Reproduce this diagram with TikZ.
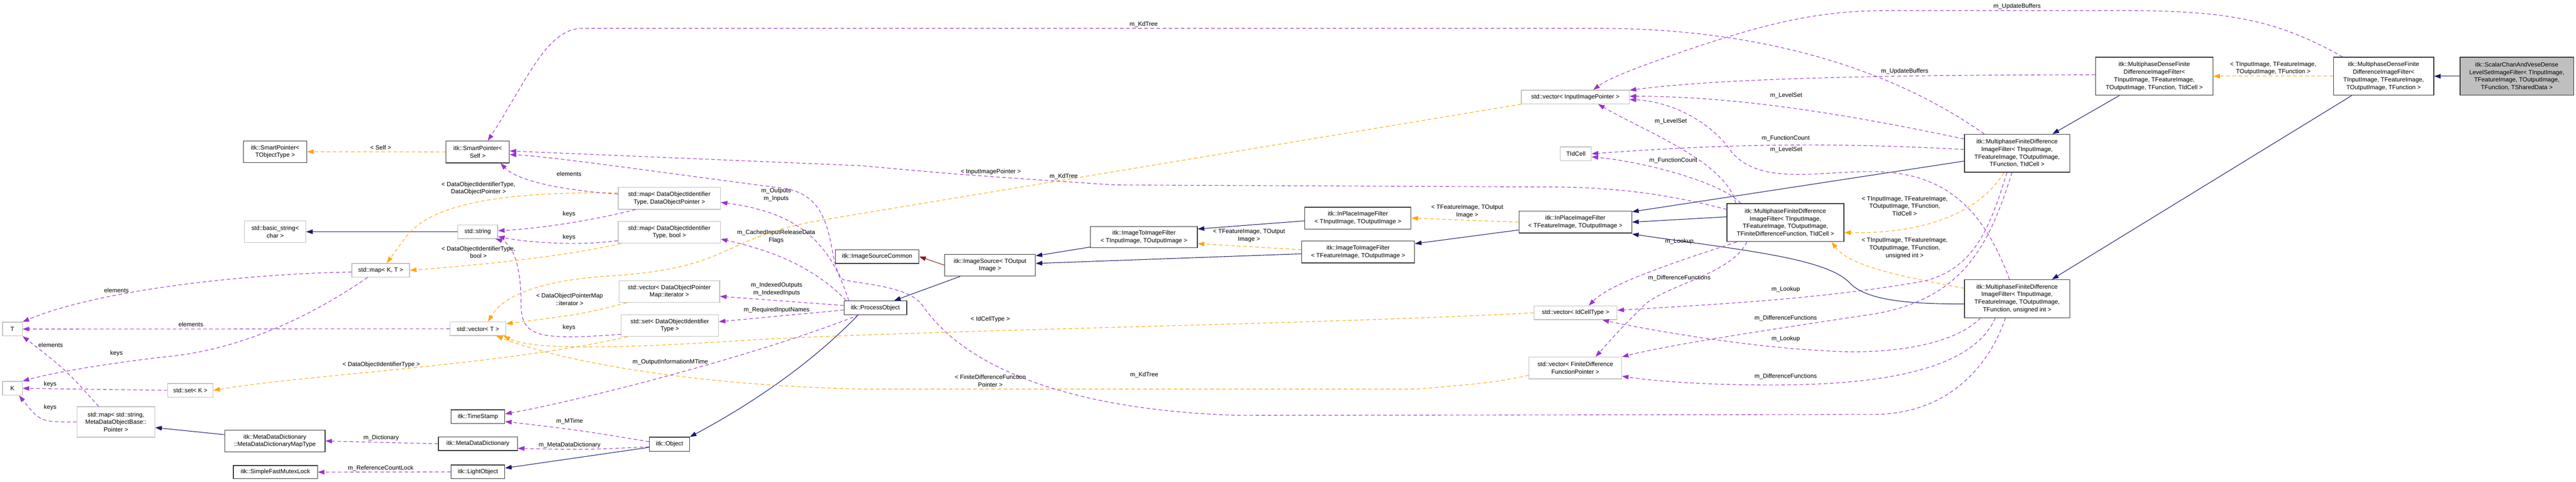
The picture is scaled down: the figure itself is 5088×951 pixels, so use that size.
\documentclass[tikz,border=0pt]{standalone}
\usepackage{fontspec}
\setmainfont{Liberation Sans}
\usetikzlibrary{arrows.meta}
\definecolor{cpur}{HTML}{9A32CD}
\definecolor{corg}{HTML}{FFA500}
\definecolor{cnav}{HTML}{191970}
\definecolor{cred}{HTML}{8B1A1A}
\definecolor{cgry}{HTML}{BFBFBF}
\newcommand\fsz{\fontsize{12}{15}\selectfont}
\tikzset{
 every node/.style={font=\fsz},
 box/.style={draw=black!80, line width=1.3pt, fill=white, inner sep=0pt, align=center},
 gbox/.style={draw=cgry, line width=1.3pt, fill=white, inner sep=0pt, align=center},
 tip/.style={-{Triangle[length=13pt,width=9pt]}},
 inh/.style={tip, draw=cnav, line width=1.1pt},
 inr/.style={tip, draw=cred, line width=1.1pt},
 tmpl/.style={tip, draw=corg, line width=1.1pt, dash pattern=on 7pt off 5pt},
 mem/.style={tip, draw=cpur, line width=1.1pt, dash pattern=on 7pt off 5pt},
 lbl/.style={align=center, inner sep=0pt}
}
\begin{document}
\begin{tikzpicture}[x=1pt,y=-1pt]
\useasboundingbox (0,0) rectangle (5088,951);
% nodes
\node[box, minimum width=125, minimum height=43] (sptobj) at (543.5,299.5) {itk::SmartPointer<\\ TObjectType >};
\node[gbox, minimum width=121, minimum height=43] (bstr) at (543.5,457.5) {std::basic\_string<\\ char >};
\node[gbox, minimum width=114, minimum height=27] (mapkt) at (752,533.5) {std::map< K, T >};
\node[gbox, minimum width=39, minimum height=27] (T) at (24.5,649.5) {T};
\node[gbox, minimum width=39, minimum height=27] (K) at (24.5,766.5) {K};
\node[gbox, minimum width=90, minimum height=27] (setk) at (376,770.5) {std::set< K >};
\node[gbox, minimum width=154, minimum height=60] (mapmd) at (229,833) {std::map< std::string,\\ MetaDataObjectBase::\\ Pointer >};
\node[box, minimum width=198, minimum height=43] (mdmt) at (543,870.5) {itk::MetaDataDictionary\\ ::MetaDataDictionaryMapType};
\node[box, minimum width=166, minimum height=26] (sfml) at (544,932) {itk::SimpleFastMutexLock};
\node[box, minimum width=125, minimum height=43] (spself) at (943.5,300) {itk::SmartPointer<\\ Self >};
\node[gbox, minimum width=202, minimum height=43] (mapdop) at (1322,391.5) {std::map< DataObjectIdentifier\\ Type, DataObjectPointer >};
\node[gbox, minimum width=79, minimum height=27] (str) at (943.5,457.5) {std::string};
\node[gbox, minimum width=202, minimum height=43] (mapb) at (1322,458.5) {std::map< DataObjectIdentifier\\ Type, bool >};
\node[gbox, minimum width=199, minimum height=43] (vecit) at (1322,575.5) {std::vector< DataObjectPointer\\ Map::iterator >};
\node[gbox, minimum width=192, minimum height=43] (setd) at (1323,642.5) {std::set< DataObjectIdentifier\\ Type >};
\node[gbox, minimum width=110, minimum height=27] (vect) at (944,649) {std::vector< T >};
\node[box, minimum width=124, minimum height=27] (po) at (1729,607.5) {itk::ProcessObject};
\node[box, minimum width=106, minimum height=27] (ts) at (944,822.5) {itk::TimeStamp};
\node[box, minimum width=156, minimum height=27] (mdd) at (944,876) {itk::MetaDataDictionary};
\node[box, minimum width=106, minimum height=27] (lo) at (944,931.5) {itk::LightObject};
\node[box, minimum width=79, minimum height=28] (obj) at (1322.5,877) {itk::Object};
\node[box, minimum width=165, minimum height=27] (isc) at (1732.5,506.5) {itk::ImageSourceCommon};
\node[box, minimum width=179, minimum height=43] (is) at (1955.5,523.5) {itk::ImageSource< TOutput\\ Image >};
\node[box, minimum width=211, minimum height=42] (itii) at (2259.5,468) {itk::ImageToImageFilter\\ < TInputImage, TOutputImage >};
\node[box, minimum width=210, minimum height=43] (ipi) at (2682,430.5) {itk::InPlaceImageFilter\\ < TInputImage, TOutputImage >};
\node[box, minimum width=223, minimum height=43] (itif) at (2682.5,497.5) {itk::ImageToImageFilter\\ < TFeatureImage, TOutputImage >};
\node[box, minimum width=223, minimum height=43] (ipf) at (3111.5,438.5) {itk::InPlaceImageFilter\\ < TFeatureImage, TOutputImage >};
\node[gbox, minimum width=213, minimum height=27] (veciip) at (3111.5,191.5) {std::vector< InputImagePointer >};
\node[gbox, minimum width=61, minimum height=27] (tidc) at (3112.5,303.5) {TIdCell};
\node[gbox, minimum width=164, minimum height=27] (vecic) at (3112,617.5) {std::vector< IdCellType >};
\node[gbox, minimum width=183, minimum height=43] (vecfd) at (3111.5,726.5) {std::vector< FiniteDifference\\ FunctionPointer >};
\node[box, minimum width=208, minimum height=75] (mfdt) at (3984,302.5) {itk::MultiphaseFiniteDifference\\ ImageFilter< TInputImage,\\ TFeatureImage, TOutputImage,\\ TFunction, TIdCell >};
\node[box, minimum width=231, minimum height=75] (mfdf) at (3526.5,439.5) {itk::MultiphaseFiniteDifference\\ ImageFilter< TInputImage,\\ TFeatureImage, TOutputImage,\\ TFiniteDifferenceFunction, TIdCell >};
\node[box, minimum width=208, minimum height=75] (mfdu) at (3984,589.5) {itk::MultiphaseFiniteDifference\\ ImageFilter< TInputImage,\\ TFeatureImage, TOutputImage,\\ TFunction, unsigned int >};
\node[box, minimum width=232, minimum height=75] (mdt) at (4255,150.5) {itk::MultiphaseDenseFinite\\ DifferenceImageFilter<\\ TInputImage, TFeatureImage,\\ TOutputImage, TFunction, TIdCell >};
\node[box, minimum width=198, minimum height=75] (md) at (4708,150.5) {itk::MultiphaseDenseFinite\\ DifferenceImageFilter<\\ TInputImage, TFeatureImage,\\ TOutputImage, TFunction >};
\node[box, fill=cgry, minimum width=224, minimum height=75] (scvd) at (4971,150.5) {itk::ScalarChanAndVeseDense\\ LevelSetImageFilter< TInputImage,\\ TFeatureImage, TOutputImage,\\ TFunction, TSharedData >};
% inheritance
\draw[inh] (scvd.west) -- (md.east);
\draw[inh] ([xshift=-63pt]md.south) -- ([xshift=69pt]mfdu.north);
\draw[inh] ([xshift=-69pt]mdt.south) -- ([xshift=70pt]mfdt.north);
\draw[inh] ([yshift=-15.5pt]mfdt.west) -- ([yshift=20.5pt]ipf.east);
\draw[inh] ([yshift=11.5pt]mfdf.west) -- (ipf.east);
\draw[inh] ([yshift=-10.5pt]mfdu.west) .. controls (3780,600) and (3690,595) .. (3655,560) .. controls (3610,510) and (3450,495) .. ([yshift=-23.5pt]ipf.east);
\draw[inh] ([yshift=-15.5pt]ipf.west) -- ([yshift=16.5pt]itif.east);
\draw[inh] ([yshift=-5.5pt]ipi.west) -- ([yshift=16pt]itii.east);
\draw[inh] ([yshift=-3.5pt]itif.west) -- ([yshift=3.5pt]is.east);
\draw[inh] ([yshift=2pt]itii.south west) -- ([yshift=18.5pt]is.east);
\draw[inr] (is.west) -- (isc.east);
\draw[inh] ([xshift=31pt]is.south west) -- ([xshift=37pt]po.north);
\draw[inh] ([xshift=-34pt]po.south) .. controls (1600,720) and (1480,800) .. (obj.north east);
\draw[inh] ([yshift=-6pt]obj.west) -- ([yshift=7.5pt]lo.east);
\draw[inh] ([yshift=12.5pt]mdmt.west) -- ([yshift=-11pt]mapmd.east);
\draw[inh] (str.west) -- (bstr.east);
% templates
\draw[tmpl] (md.west) -- (mdt.east);
\draw[tmpl] (ipf.west) -- (ipi.east);
\draw[tmpl] ([yshift=4.5pt]itif.west) -- ([yshift=-13pt]itii.east);
\draw[tmpl] ([xshift=-26pt]mfdt.south) .. controls (3910,420) and (3800,462) .. ([yshift=-19.5pt]mfdf.east);
\draw[tmpl] ([yshift=20.5pt]mfdu.west) .. controls (3720,540) and (3650,520) .. ([xshift=-25pt]mfdf.south east);
\draw[tmpl] (spself.west) -- (sptobj.east);
\draw[tmpl] (veciip.south west) -- (1620,435) .. controls (1420,470) and (1450,530) .. (1200,545) .. controls (1050,555) and (990,590) .. ([xshift=20pt]vect.north);
\draw[tmpl] ([yshift=10.5pt]mapdop.west) .. controls (1000,378) and (850,400) .. (800,470) .. controls (785,490) .. ([xshift=12pt]mapkt.north);
\draw[tmpl] ([xshift=6pt]mapb.south west) .. controls (1100,510) and (900,527) .. (mapkt.east);
\draw[tmpl] ([xshift=16pt]vecit.south west) .. controls (1150,620) .. ([yshift=10pt]vect.east);
\draw[tmpl] ([xshift=13pt]setd.south west) .. controls (1000,720) and (600,740) .. (setk.east);
\draw[tmpl] (vecic.west) .. controls (2600,640) and (1900,650) .. (1500,670) .. controls (1200,690) and (1050,690) .. ([xshift=-5pt]vect.south east);
\draw[tmpl] ([yshift=-14.5pt]vecfd.west) .. controls (2950,755) .. (2800,768) -- (1700,768) .. controls (1350,760) and (1100,710) .. ([xshift=36pt]vect.south);
% members
\draw[mem] ([yshift=-3.5pt]mapkt.west) .. controls (500,540) and (200,570) .. (T.north east);
\draw[mem] ([xshift=-26pt]mapkt.south) .. controls (650,600) and (500,690) .. (320,705) .. controls (150,725) and (70,745) .. (K.north east);
\draw[mem] (vect.west) -- (T.east);
\draw[mem] ([xshift=-34pt]mapmd.north) .. controls (130,730) .. (T.south east);
\draw[mem] (setk.west) -- (K.east);
\draw[mem] (mapmd.west) .. controls (80,833) .. ([xshift=13pt]K.south);
\draw[mem] (mdd.west) -- (mdmt.east);
\draw[mem] (lo.west) -- (sfml.east);
\draw[mem] ([yshift=8.5pt]mapdop.west) .. controls (1100,375) and (1020,355) .. ([xshift=-18pt]spself.south east);
\draw[mem] ([xshift=35pt]mapdop.south west) .. controls (1150,440) and (1050,452) .. ([yshift=2pt]str.east);
\draw[mem] ([yshift=-16.5pt]mapb.west) .. controls (1150,485) and (1050,480) .. ([yshift=-9.5pt]str.east);
\draw[mem] ([yshift=-17.5pt]setd.west) .. controls (1060,672) and (1030,665) .. (1029,600) .. controls (1030,520) and (1010,480) .. ([xshift=-5pt]str.south east);
\draw[mem] ([xshift=10pt]po.north west) .. controls (1640,480) and (1580,420) .. ([yshift=-8pt]mapdop.east);
\draw[mem] ([xshift=5pt]po.north west) .. controls (1620,540) and (1550,500) .. ([yshift=-13.5pt]mapb.east);
\draw[mem] ([yshift=4.5pt]po.west) -- ([yshift=-9.5pt]vecit.east);
\draw[mem] ([yshift=-4.5pt]po.west) -- ([yshift=7.5pt]setd.east);
\draw[mem] ([xshift=30pt]po.south west) .. controls (1500,700) and (1150,790) .. ([yshift=5.5pt]ts.east);
\draw[mem] ([yshift=5pt]obj.west) .. controls (1150,850) .. ([yshift=-9.5pt]ts.east);
\draw[mem] ([yshift=-5pt]obj.west) .. controls (1150,888) .. ([yshift=-9pt]mdd.east);
\draw[mem] ([xshift=-23pt]mfdu.south) .. controls (3930,720) and (3850,818) .. (3700,818) -- (2450,820) .. controls (2100,810) and (1900,720) .. (1820,600) .. controls (1790,565) and (1710,562) .. (1665,552) .. controls (1630,520) and (1660,390) .. (1550,372) .. controls (1300,340) and (1100,310) .. ([yshift=-5pt]spself.east);
\draw[mem] ([yshift=-12pt]mfdf.north west) .. controls (3300,385) and (3200,369) .. (3050,369) -- (2200,365) .. controls (1900,345) .. (1700,327) -- ([yshift=2pt]spself.east);
\draw[mem] ([xshift=-65pt]mfdt.north) .. controls (3700,110) and (3420,58) .. (3175,56) -- (1150,56) .. controls (1080,56) and (1040,160) .. ([xshift=20pt]spself.north);
\draw[mem] ([xshift=-81pt]md.north) .. controls (4500,40) and (4400,21) .. (4200,21) -- (3730,21) .. controls (3600,21) and (3500,40) .. (3300,110) .. controls (3200,145) and (3170,160) .. ([xshift=35.5pt]veciip.north);
\draw[mem] ([yshift=3pt]mdt.west) .. controls (3700,148) and (3400,155) .. ([yshift=13.5pt]veciip.east);
\draw[mem] ([yshift=-10pt]mfdt.north west) .. controls (3600,215) and (3400,190) .. ([yshift=1.5pt]veciip.east);
\draw[mem] ([yshift=7.5pt]mfdt.west) .. controls (3600,280) and (3400,285) .. (tidc.east);
\draw[mem] ([xshift=18pt]mfdf.north west) .. controls (3410,320) and (3250,260) .. ([xshift=45pt]veciip.south);
\draw[mem] ([xshift=28pt]mfdf.north west) .. controls (3400,360) and (3250,320) .. ([yshift=-6pt]tidc.east);
\draw[mem] ([xshift=-15pt]mfdu.north) .. controls (3920,420) and (3850,345) .. (3714,339) .. controls (3600,335) and (3480,370) .. (3420,300) .. controls (3380,240) and (3300,200) .. ([yshift=-5pt]veciip.east);
\draw[mem] ([xshift=20pt]mfdf.south west) .. controls (3300,520) and (3180,560) .. ([xshift=26pt]vecic.north);
\draw[mem] ([xshift=40pt]mfdf.south west) .. controls (3420,540) and (3300,560) .. (3250,600) .. controls (3200,650) .. ([xshift=40pt]vecfd.north);
\draw[mem] ([xshift=-20pt]mfdt.south) .. controls (3930,450) and (3900,530) .. (3800,555) .. controls (3600,590) and (3400,600) .. ([yshift=5pt]vecic.east);
\draw[mem] ([xshift=-10pt]mfdt.south) .. controls (3930,480) and (3880,590) .. (3700,620) .. controls (3500,650) and (3300,680) .. (vecfd.north east);
\draw[mem] ([xshift=-72pt]mfdu.south) .. controls (3850,690) and (3700,700) .. (3600,692) .. controls (3450,685) and (3250,650) .. ([xshift=53pt]vecic.south);
\draw[mem] ([xshift=-43pt]mfdu.south) .. controls (3900,720) and (3750,760) .. (3500,760) .. controls (3350,760) and (3250,750) .. ([yshift=-16pt]vecfd.east);
% labels
\node[lbl] (l1) at (752,291) {< Self >};
\node[lbl] (l2) at (230,573) {elements};
\node[lbl] (l3) at (377,640) {elements};
\node[lbl] (l4) at (100,681) {elements};
\node[lbl] (l5) at (230,697) {keys};
\node[lbl] (l6) at (99,759) {keys};
\node[lbl] (l7) at (99,804) {keys};
\node[lbl] (l8) at (753,720) {< DataObjectIdentifierType >};
\node[lbl] (l9) at (753,864) {m\_Dictionary};
\node[lbl] (l10) at (752,924) {m\_ReferenceCountLock};
\node[lbl] (l11) at (945,372) {< DataObjectIdentifierType,\\ DataObjectPointer >};
\node[lbl] (l12) at (1124,343) {elements};
\node[lbl] (l13) at (1124,423) {keys};
\node[lbl] (l14) at (1124,469) {keys};
\node[lbl] (l15) at (1124,647) {keys};
\node[lbl] (l16) at (945,498) {< DataObjectIdentifierType,\\ bool >};
\node[lbl] (l17) at (1533,385) {m\_Outputs\\ m\_Inputs};
\node[lbl] (l18) at (1533,467) {m\_CachedInputReleaseData\\ Flags};
\node[lbl] (l19) at (1125,591) {< DataObjectPointerMap\\ ::iterator >};
\node[lbl] (l20) at (1534,571) {m\_IndexedOutputs\\ m\_IndexedInputs};
\node[lbl] (l21) at (1534,612) {m\_RequiredInputNames};
\node[lbl] (l22) at (1324,715) {m\_OutputInformationMTime};
\node[lbl] (l23) at (1125,832) {m\_MTime};
\node[lbl] (l24) at (1125,879) {m\_MetaDataDictionary};
\node[lbl] (l25) at (2259,48) {m\_KdTree};
\node[lbl] (l26) at (2101,348) {m\_KdTree};
\node[lbl] (l27) at (2260,740) {m\_KdTree};
\node[lbl] (l28) at (1957,339) {< InputImagePointer >};
\node[lbl] (l29) at (2467,465) {< TFeatureImage, TOutput\\ Image >};
\node[lbl] (l30) at (1956,630) {< IdCellType >};
\node[lbl] (l31) at (1956,752) {< FiniteDifferenceFunction\\ Pointer >};
\node[lbl] (l32) at (2898,417) {< TFeatureImage, TOutput\\ Image >};
\node[lbl] (l33) at (3317,477) {m\_Lookup};
\node[lbl] (l34) at (3317,549) {m\_DifferenceFunctions};
\node[lbl] (l35) at (3305,317) {m\_FunctionCount};
\node[lbl] (l36) at (3300,240) {m\_LevelSet};
\node[lbl] (l37) at (3527,273) {m\_FunctionCount};
\node[lbl] (l38) at (3528,189) {m\_LevelSet};
\node[lbl] (l39) at (3528,296) {m\_LevelSet};
\node[lbl] (l40) at (3762,141) {m\_UpdateBuffers};
\node[lbl] (l41) at (3984,13) {m\_UpdateBuffers};
\node[lbl] (l42) at (3762,407) {< TInputImage, TFeatureImage,\\ TOutputImage, TFunction,\\ TIdCell >};
\node[lbl] (l43) at (3762,490) {< TInputImage, TFeatureImage,\\ TOutputImage, TFunction,\\ unsigned int >};
\node[lbl] (l44) at (3527,571) {m\_Lookup};
\node[lbl] (l45) at (3527,628) {m\_DifferenceFunctions};
\node[lbl] (l46) at (3527,669) {m\_Lookup};
\node[lbl] (l47) at (3527,743) {m\_DifferenceFunctions};
\node[lbl] (l48) at (4490,135) {< TInputImage, TFeatureImage,\\ TOutputImage, TFunction >};
\end{tikzpicture}
\end{document}
